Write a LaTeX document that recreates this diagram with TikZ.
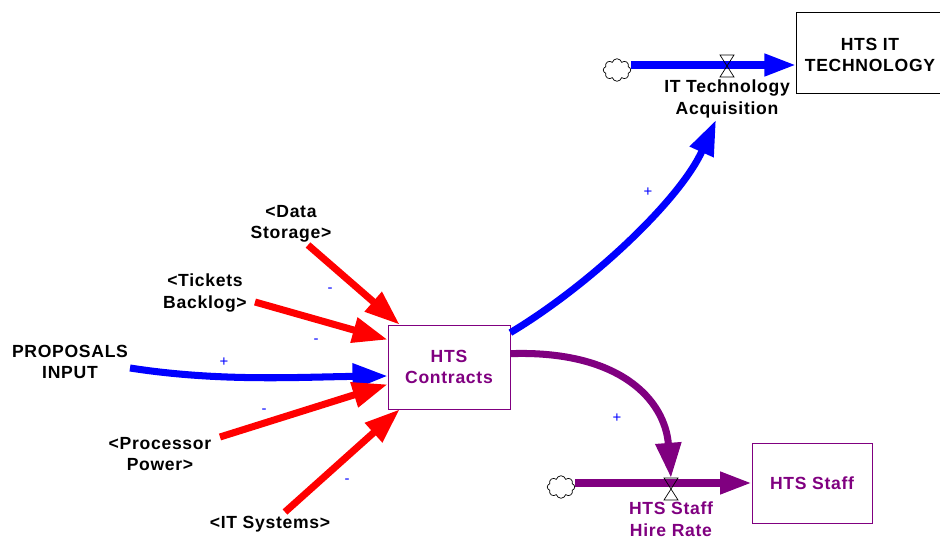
\documentclass[tikz,border=0pt]{standalone}
\usepackage{fontspec}
\setmainfont{Liberation Sans}[LetterSpace=4]
\usetikzlibrary{arrows.meta,shapes.symbols}
\definecolor{vpurple}{RGB}{128,0,128}

\tikzset{
  lbl/.style={font=\fontsize{10}{12.3}\selectfont\bfseries,align=center,inner sep=0pt},
  stock/.style={draw,thin,minimum width=2.4cm,minimum height=1.6cm,lbl},
  sign/.style={blue,font=\fontsize{8.5}{8.5}\selectfont,inner sep=0pt},
  link/.style={line width=4pt,-{Triangle[length=20pt,width=14pt]}},
  pipe/.style={line width=4pt,-{Triangle[length=18pt,width=12pt]}},
  sky/.style={cloud,cloud puffs=8,draw,thin,fill=white,minimum width=0.55cm,minimum height=0.45cm,inner sep=0pt}
}
\newcommand{\valve}[2]{\draw[thin] (#1-7,#2-11) -- (#1+7,#2-11) -- (#1-7,#2+11) -- (#1+7,#2+11) -- cycle;}

\begin{document}
\begin{tikzpicture}[x=0.02cm,y=-0.02cm]
\useasboundingbox (0,0) rectangle (940,540);
%Stocks
\draw (796,12) rectangle (945,93);
\node[lbl] (tech) at (870,55) {HTS IT\\TECHNOLOGY};
\node[stock,vpurple,minimum width=2.44cm,minimum height=1.68cm] (contracts) at (449,367) {HTS\\Contracts};
\node[stock,vpurple,minimum width=2.4cm,minimum height=1.6cm] (staff) at (812,483) {HTS Staff};
%Flows
\node[sky] (c1) at (617,70) {};
\node[sky] (c2) at (561,487) {};
\coordinate (techin) at (796,65);
\draw[pipe,blue] (c1.east |- techin) -- (techin);
\valve{727}{66}
\node[lbl] (acq) at (727,99) {IT Technology\\Acquisition};
\draw[pipe,vpurple] (c2.east |- staff.west) -- (staff.west);
\valve{671}{489}
\node[lbl,vpurple] (hire) at (671,519) {HTS Staff\\Hire Rate};
%Variables
\node[lbl] (storage) at (291,224) {<Data\\Storage>};
\node[lbl] (backlog) at (205,293) {<Tickets\\Backlog>};
\node[lbl] (proposals) at (70,362) {PROPOSALS\\INPUT};
\node[lbl] (power) at (160,454) {<Processor\\Power>};
\node[lbl] (systems) at (270,524) {<IT Systems>};
%Links
\coordinate (t1) at (308,245);
\coordinate (t2) at (255,302);
\coordinate (t3) at (130,368);
\coordinate (t4) at (220,437);
\coordinate (t5) at (285,512);
\coordinate (h1) at (716,120);
\coordinate (h2) at (671,478);
\draw[link,red] (t1) -- ([xshift=0.24cm]contracts.north west);
\draw[link,red] (t2) -- ([yshift=-0.3cm]contracts.north west);
\draw[link,blue] (t3) .. controls (220,382) and (300,377) .. ([yshift=-0.18cm]contracts.west);
\draw[link,red] (t4) -- ([yshift=0.5cm]contracts.south west);
\draw[link,red] (t5) -- ([xshift=0.24cm]contracts.south west);
\draw[link,blue] ([yshift=-0.16cm]contracts.north east) .. controls (590,285) and (680,200) .. (h1);
\draw[link,vpurple] ([yshift=-0.58cm]contracts.north east) .. controls (620,350) and (665,400) .. (h2);
%Polarities
\node[sign] (p1) at (330,290) {-};
\node[sign] (p2) at (316,341) {-};
\node[sign] (p3) at (224,362) {+};
\node[sign] (p4) at (264,411) {-};
\node[sign] (p5) at (347,481) {-};
\node[sign] (p6) at (648,192) {+};
\node[sign] (p7) at (617,418) {+};
\end{tikzpicture}
\end{document}
